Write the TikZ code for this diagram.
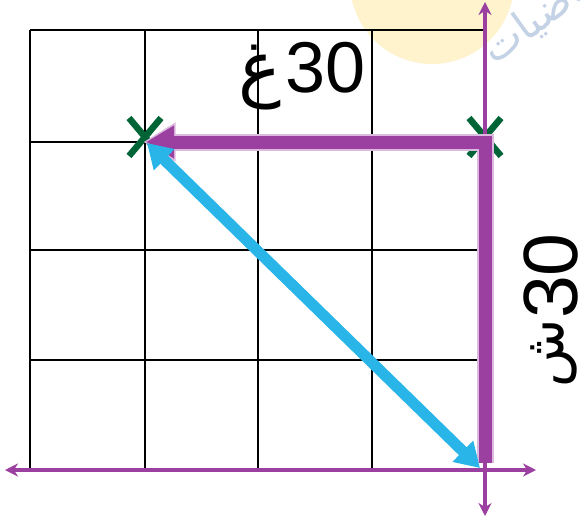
\documentclass[tikz,border=0pt]{standalone}
\usepackage{fontspec}
\setmainfont{Liberation Sans}
\newfontfamily\arabicfont[Script=Arabic]{DejaVu Sans}
\TeXXeTstate=1
\usetikzlibrary{arrows.meta}
\definecolor{axpurple}{RGB}{155,64,160}
\definecolor{lightpurple}{RGB}{220,185,222}
\definecolor{arrblue}{RGB}{41,181,232}
\definecolor{xgreen}{RGB}{0,100,55}
\definecolor{wmyellow}{RGB}{255,243,205}
\definecolor{wmblue}{RGB}{196,210,230}
\tikzset{
  gridline/.style={black,line width=1.4pt},
  axisline/.style={axpurple,line width=3.5pt,{Stealth[length=13pt,width=13pt]}-{Stealth[length=13pt,width=13pt]}},
  xmark/.style={xgreen,line width=6.5pt},
  bluearrow/.style={arrblue,line width=11pt,{Triangle[length=24pt,width=28pt]}-{Triangle[length=24pt,width=28pt]}},
  lbl/.style={inner sep=0pt}
}
\begin{document}
\begin{tikzpicture}[x=1pt,y=-1pt]
\useasboundingbox (0,0) rectangle (580,519);
\fill[white] (0,0) rectangle (580,519);
% watermark
\begin{scope}
\clip (0,0) rectangle (580,519);
\fill[wmyellow] (432,-18) circle [radius=82];
\node[wmblue,anchor=base west,rotate=36,inner sep=0pt,font=\arabicfont\fontsize{42}{42}\selectfont] (wm) at (494,66) {\beginR رياضيات\endR};
\end{scope}
% coordinates
\coordinate (A) at (145,142);
\coordinate (B) at (485,142);
\coordinate (C) at (485,470);
\coordinate (AxL) at (5,470);
\coordinate (AxR) at (536,470);
\coordinate (AxT) at (485,2);
\coordinate (AxB) at (485,516);
\coordinate (Cs) at (485,463);
% grid
\foreach \xx in {30,145,258,372,485} \draw[gridline] (\xx,30) -- (\xx,470);
\foreach \yy in {30,142,250,360,470} \draw[gridline] (30,\yy) -- (485,\yy);
% X marks (under the arrows)
\foreach \p in {A,B} {
  \draw[xmark] ([shift={(-16,-24)}]\p) -- ([shift={(16,14)}]\p);
  \draw[xmark] ([shift={(16,-24)}]\p) -- ([shift={(-16,14)}]\p);
}
% axes
\draw[axisline] (AxL) -- (AxR);
\draw[axisline] (AxB) -- (AxT);
% thick purple path
\draw[lightpurple,line width=17pt,line join=miter,-{Triangle[length=32pt,width=37pt]}] (Cs) -- (B) -- ([xshift=-1.5pt]A);
\draw[axpurple,line width=13pt,line join=miter,-{Triangle[length=28pt,width=31pt]}] (Cs) -- (B) -- ([xshift=1pt]A);
% blue double arrow
\draw[bluearrow] ([shift={(2,1)}]A) -- ([shift={(-5,-2)}]C);
% labels
\node[lbl,anchor=base east,font=\fontsize{72}{72}\selectfont] (lg) at (366,92) {{\arabicfont\beginR غ\endR}\kern4pt 30};
\node[lbl,anchor=base east,rotate=90,font=\fontsize{77}{77}\selectfont] (ls) at (577,233) {{\arabicfont\fontsize{56}{56}\selectfont\raisebox{\depth}{\beginR ش\endR}}30};
\end{tikzpicture}
\end{document}
